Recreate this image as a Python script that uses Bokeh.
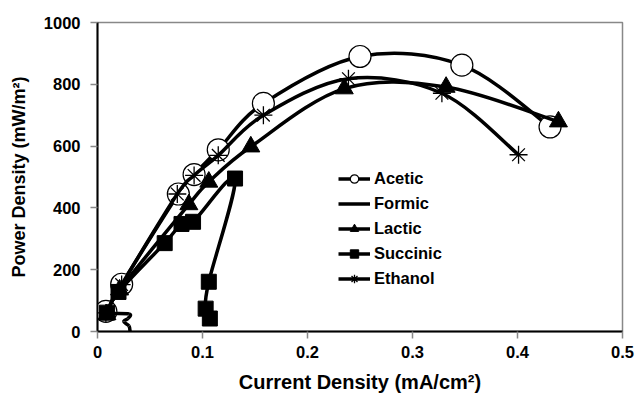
import numpy as np
from bokeh.plotting import figure
from bokeh.models import Range1d, FixedTicker, Legend, LegendItem
from bokeh.embed import file_html
from bokeh.resources import INLINE

# ---- data ----
acetic_x = [0.008, 0.023, 0.077, 0.092, 0.115, 0.158, 0.250, 0.347, 0.431]
acetic_y = [65, 153, 445, 508, 588, 738, 890, 862, 662]

formic_x = [0.008, 0.030, 0.029, 0.025, 0.030, 0.031]
formic_y = [58, 57, 42, 32, 18, 0]

lactic_x = [0.009, 0.021, 0.087, 0.106, 0.146, 0.235, 0.332, 0.439]
lactic_y = [55, 135, 411, 484, 598, 786, 791, 679]

succinic_x = [0.009, 0.020, 0.064, 0.080, 0.091, 0.131, 0.106, 0.103, 0.107]
succinic_y = [61, 128, 286, 348, 355, 495, 161, 74, 42]

ethanol_x = [0.008, 0.023, 0.076, 0.092, 0.115, 0.158, 0.239, 0.328, 0.401]
ethanol_y = [60, 152, 445, 505, 570, 700, 818, 771, 572]

x_ticks = [0, 0.1, 0.2, 0.3, 0.4, 0.5]
x_tick_labels = ["0", "0.1", "0.2", "0.3", "0.4", "0.5"]
y_ticks = [0, 200, 400, 600, 800, 1000]

FONT = "Liberation Sans"

p = figure(width=637, height=395, output_backend="svg", toolbar_location=None,
           x_range=Range1d(0, 0.5), y_range=Range1d(0, 1000),
           min_border_left=97, min_border_right=15, min_border_top=22, min_border_bottom=62)
p.grid.visible = False
p.outline_line_color = "#888888"
p.outline_line_width = 1.5
p.background_fill_color = "white"
p.border_fill_color = "white"

for ax in (p.xaxis[0], p.yaxis[0]):
    ax.axis_line_color = "black"
    ax.axis_line_width = 2
    ax.major_tick_line_color = "#888888"
    ax.major_tick_line_width = 1.5
    ax.major_tick_out = 7
    ax.major_tick_in = 0
    ax.minor_tick_out = 0
    ax.minor_tick_in = 0
    ax.major_label_text_font = FONT
    ax.major_label_text_font_style = "bold"
    ax.major_label_text_font_size = "16.5px"
    ax.major_label_text_color = "black"
    ax.axis_label_text_font = FONT
    ax.axis_label_text_font_style = "bold"
    ax.axis_label_text_color = "black"

p.xaxis.ticker = FixedTicker(ticks=x_ticks)
p.xaxis.major_label_overrides = {t: l for t, l in zip(x_ticks, x_tick_labels)}
p.yaxis.ticker = FixedTicker(ticks=y_ticks)
p.xaxis.axis_label = "Current Density (mA/cm²)"
p.yaxis.axis_label = "Power Density (mW/m²)"
p.xaxis.axis_label_text_font_size = "20px"
p.yaxis.axis_label_text_font_size = "18px"
p.xaxis.major_label_standoff = 7
p.yaxis.major_label_standoff = 10
p.xaxis.axis_label_standoff = 10
p.yaxis.axis_label_standoff = 12


def smooth(xs, ys):
    x = np.asarray(xs, float)
    y = np.asarray(ys, float)
    xp = np.concatenate([[x[0]], x, [x[-1]]])
    yp = np.concatenate([[y[0]], y, [y[-1]]])
    n = len(x)
    d = dict(x0=[], y0=[], x1=[], y1=[], cx0=[], cy0=[], cx1=[], cy1=[])
    for i in range(n - 1):
        a, b = i + 1, i + 2
        d["x0"].append(xp[a]); d["y0"].append(yp[a])
        d["x1"].append(xp[b]); d["y1"].append(yp[b])
        d["cx0"].append(xp[a] + (xp[b] - xp[a - 1]) / 6)
        d["cy0"].append(yp[a] + (yp[b] - yp[a - 1]) / 6)
        d["cx1"].append(xp[b] - (xp[b + 1] - xp[a]) / 6)
        d["cy1"].append(yp[b] - (yp[b + 1] - yp[a]) / 6)
    return d

LW = 3.5
items = []

def curve(xs, ys):
    return p.bezier(line_color="black", line_width=LW, **smooth(xs, ys))

# Acetic
r1 = curve(acetic_x, acetic_y)
m1 = p.scatter(acetic_x, acetic_y, marker="circle", size=22, fill_color="white",
               line_color="black", line_width=1.2)
items.append(LegendItem(label="Acetic", renderers=[r1, m1]))
# Formic
r2 = curve(formic_x, formic_y)
items.append(LegendItem(label="Formic", renderers=[r2]))
# Lactic
r3 = curve(lactic_x, lactic_y)
m3 = p.scatter(lactic_x, lactic_y, marker="triangle", size=18, fill_color="black",
               line_color="black")
items.append(LegendItem(label="Lactic", renderers=[r3, m3]))
# Succinic
r4 = curve(succinic_x, succinic_y)
m4 = p.scatter(succinic_x, succinic_y, marker="square", size=15, fill_color="black",
               line_color="black")
items.append(LegendItem(label="Succinic", renderers=[r4, m4]))
# Ethanol
r5 = curve(ethanol_x, ethanol_y)
m5 = p.scatter(ethanol_x, ethanol_y, marker="asterisk", size=18, line_color="black",
               line_width=1.3)
items.append(LegendItem(label="Ethanol", renderers=[r5, m5]))

legend = Legend(items=items, location=(241, 42), padding=0, margin=0,
                border_line_color=None, background_fill_alpha=0,
                label_text_font=FONT, label_text_font_style="bold",
                label_text_font_size="16.5px", label_text_color="black",
                glyph_width=32, glyph_height=21, spacing=4, label_standoff=4,
                label_height=21)
p.add_layout(legend)

open("out.html", "w").write(file_html(p, INLINE))
